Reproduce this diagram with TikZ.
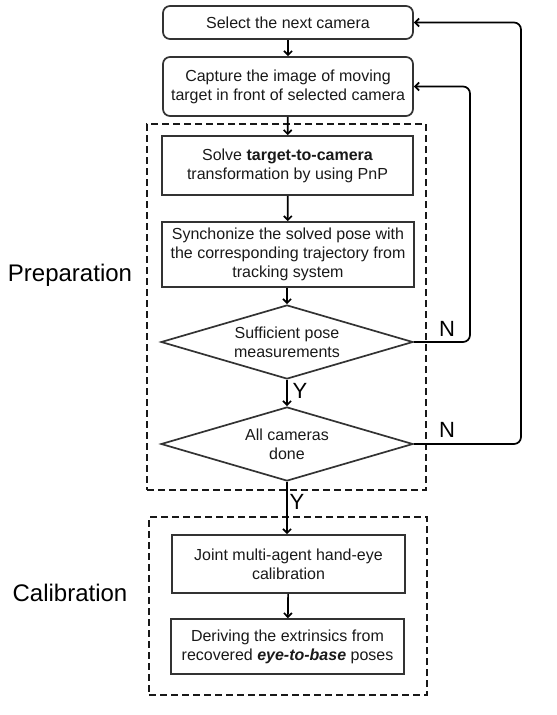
\documentclass[tikz,border=0pt]{standalone}
\usepackage{fontspec}
\setmainfont{Liberation Sans}
\usetikzlibrary{shapes.geometric,arrows.meta}
\begin{document}
\begin{tikzpicture}[x=1pt,y=-1pt,
  txt/.style={font=\fontsize{16}{19}\selectfont, text=black!90},
  box/.style={txt, draw=black!80, line width=1.7pt, inner sep=0pt, align=center},
  rbox/.style={box, rounded corners=7pt},
  dec/.style={box, shape=diamond, aspect=3.4, minimum width=252pt, minimum height=74pt},
  group/.style={draw=black!90, line width=1.7pt, dash pattern=on 7pt off 4pt, inner sep=0pt},
  conn/.style={line width=1.7pt, -{Straight Barb[length=4pt,width=8pt]}},
  loop/.style={conn, rounded corners=7pt},
  yn/.style={font=\fontsize{22}{24}\selectfont, text=black},
  sect/.style={font=\fontsize{24}{27}\selectfont, text=black}
]
\useasboundingbox (0,0) rectangle (557,715);
% group frames
\node[group, minimum width=279pt, minimum height=366pt] (prep) at (286.5,307) {};
\node[group, minimum width=278pt, minimum height=178pt] (cal) at (288,606) {};
% steps
\node[rbox, minimum width=250pt, minimum height=33pt] (b1) at (288,22.5) {Select the next camera};
\node[rbox, minimum width=250pt, minimum height=59pt] (b2) at (288,86.5) {Capture the image of moving\\target in front of selected camera};
\node[box, minimum width=251pt, minimum height=59pt] (b3) at (287.5,165.5) {Solve \textbf{target-to-camera}\\transformation by using PnP};
\node[box, minimum width=252pt, minimum height=65pt] (b4) at (288,254.5) {Synchonize the solved pose with\\the corresponding trajectory from\\tracking system};
\node[dec] (d1) at (287,342) {Sufficient pose\\measurements};
\node[dec] (d2) at (287,444) {All cameras\\done};
\node[box, minimum width=233pt, minimum height=58pt] (b5) at (288.5,564) {Joint multi-agent hand-eye\\calibration};
\node[box, minimum width=233pt, minimum height=55pt] (b6) at (287.5,646.5) {Deriving the extrinsics from\\recovered \textbf{\textit{eye-to-base}} poses};
% section labels
\node[sect] (lp) at (70,275) {Preparation};
\node[sect] (lc) at (70,593) {Calibration};
% connectors
\draw[conn] (b1) -- (b2);
\draw[conn] (b2) -- (b3);
\draw[conn] (b3) -- (b4);
\draw[conn] (b4.south -| d1) -- (d1.north);
\draw[conn] (d1.south) -- (d2.north);
\draw[conn] (d2.south) -- (b5.north -| d2.south);
\draw[conn] (b5) -- (b6);
\coordinate (r1) at (470,0);
\coordinate (r2) at (521,0);
\draw[loop] (d1.east) -- (d1.east -| r1) -- (b2.east -| r1) -- (b2.east);
\draw[loop] (d2.east) -- (d2.east -| r2) -- (b1.east -| r2) -- (b1.east);
% labels
\node[yn] (n1) at (447,329) {N};
\node[yn] (n2) at (447,430) {N};
\node[yn] (y1) at (300,391) {Y};
\node[yn] (y2) at (297,502) {Y};
\end{tikzpicture}
\end{document}
